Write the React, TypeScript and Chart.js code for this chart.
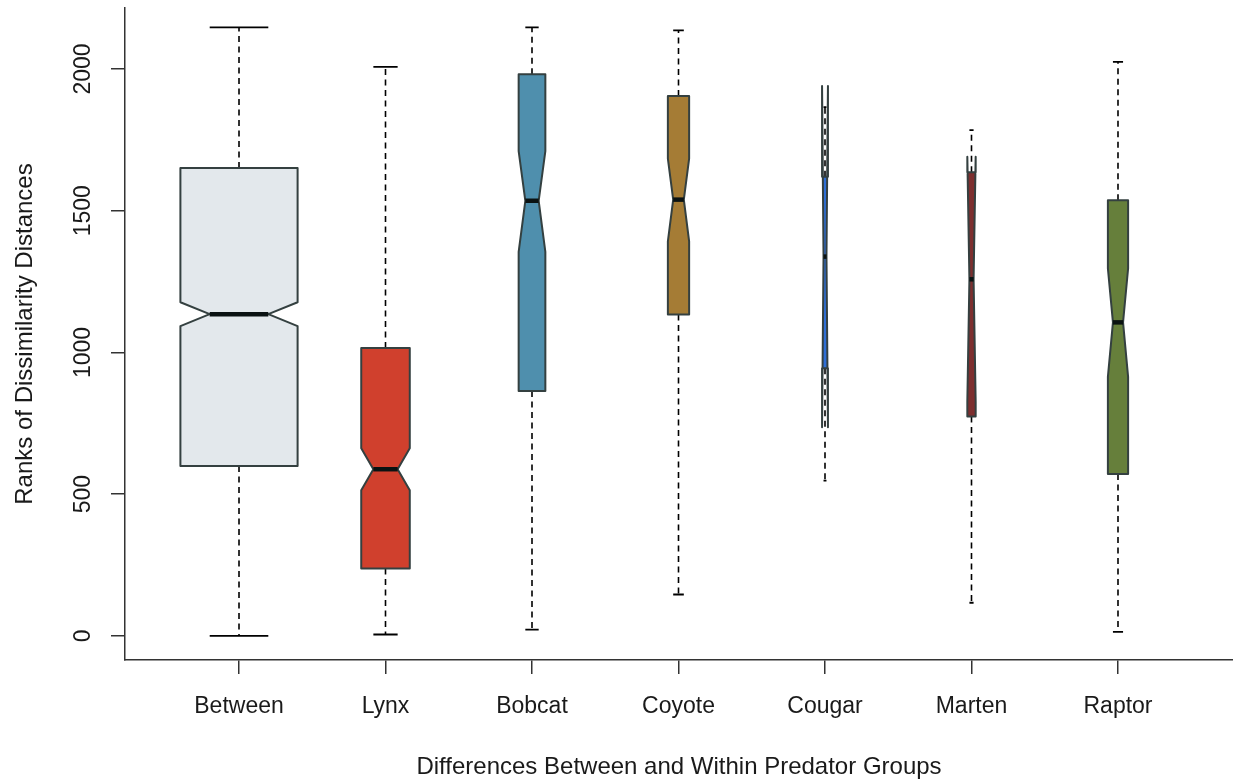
import React, { useEffect, useRef } from "react";
import { Chart, registerables } from "chart.js";

Chart.register(...registerables);

// Five-number summaries of ranked dissimilarity distances per comparison group
const groups = ["Between", "Lynx", "Bobcat", "Coyote", "Cougar", "Marten", "Raptor"];
const whiskerLow = [0, 5, 22, 146, 548, 117, 14];
const lowerHinge = [599, 238, 864, 1134, 944, 774, 571];
const medians = [1135, 588, 1535, 1539, 1338, 1258, 1106];
const upperHinge = [1651, 1016, 1981, 1905, 1620, 1636, 1537];
const whiskerHigh = [2147, 2007, 2147, 2136, 1865, 1784, 2025];
// Notch limits around each median
const notchLow = [1093, 514, 1355, 1392, 736, 826, 914];
const notchHigh = [1177, 662, 1710, 1684, 1940, 1690, 1296];
// Number of distances in each group (box widths scale with sqrt(n))
const groupSizes = [1580, 271, 82, 52, 4, 8, 47];
const yTicks = [0, 500, 1000, 1500, 2000];

const fillColors = ["#E3E8EC", "#D0402D", "#4F8FAD", "#A57C35", "#2F6FD6", "#7D2F2F", "#667F3B"];
const borderColor = "#344040";
const inkColor = "#1a1a1a";
const fontFamily = "'Liberation Sans', Arial, sans-serif";
const BOX_WEX = 0.8;

const notchedBoxPlugin = {
  id: "notchedBoxes",
  beforeDatasetsDraw(chart: any) {
    const { ctx, scales } = chart;
    const xs = scales.x;
    const ys = scales.y;
    const unit = xs.getPixelForValue(1) - xs.getPixelForValue(0);
    const maxRoot = Math.max(...groupSizes.map((n) => Math.sqrt(n)));
    const py = (v: number) => ys.getPixelForValue(v);

    ctx.save();
    groups.forEach((_, i) => {
      const cx = xs.getPixelForValue(i + 1);
      const hw = ((BOX_WEX * Math.sqrt(groupSizes[i])) / maxRoot) * unit / 2;

      // dashed whiskers
      ctx.strokeStyle = "#000";
      ctx.lineWidth = 1.6;
      ctx.lineCap = "butt";
      ctx.setLineDash([6, 4.5]);
      ctx.beginPath();
      ctx.moveTo(cx, py(lowerHinge[i]));
      ctx.lineTo(cx, py(whiskerLow[i]));
      ctx.moveTo(cx, py(upperHinge[i]));
      ctx.lineTo(cx, py(whiskerHigh[i]));
      ctx.stroke();
      ctx.setLineDash([]);

      // staples
      ctx.lineWidth = 1.8;
      ctx.beginPath();
      ctx.moveTo(cx - hw / 2, py(whiskerLow[i]));
      ctx.lineTo(cx + hw / 2, py(whiskerLow[i]));
      ctx.moveTo(cx - hw / 2, py(whiskerHigh[i]));
      ctx.lineTo(cx + hw / 2, py(whiskerHigh[i]));
      ctx.stroke();

      // notched box outline
      const pts: [number, number][] = [
        [-1, lowerHinge[i]],
        [-1, notchLow[i]],
        [-0.5, medians[i]],
        [-1, notchHigh[i]],
        [-1, upperHinge[i]],
        [1, upperHinge[i]],
        [1, notchHigh[i]],
        [0.5, medians[i]],
        [1, notchLow[i]],
        [1, lowerHinge[i]],
      ];
      ctx.beginPath();
      pts.forEach(([dx, v], k) => {
        const px = cx + dx * hw;
        if (k === 0) ctx.moveTo(px, py(v));
        else ctx.lineTo(px, py(v));
      });
      ctx.closePath();
      ctx.fillStyle = fillColors[i];
      ctx.fill();
      ctx.lineJoin = "round";
      ctx.lineWidth = 2;
      ctx.strokeStyle = borderColor;
      ctx.stroke();

      // median bar
      ctx.strokeStyle = "#0a1212";
      ctx.lineWidth = 4.5;
      ctx.beginPath();
      ctx.moveTo(cx - hw / 2, py(medians[i]));
      ctx.lineTo(cx + hw / 2, py(medians[i]));
      ctx.stroke();
    });
    ctx.restore();
  },
};

export default function App() {
  const canvasRef = useRef<HTMLCanvasElement | null>(null);

  useEffect(() => {
    if (!canvasRef.current) return;
    const chart = new Chart(canvasRef.current, {
      type: "scatter",
      data: {
        datasets: [
          {
            label: "Median",
            data: medians.map((m, i) => ({ x: i + 1, y: m })),
            pointRadius: 0,
            pointHoverRadius: 0,
          },
        ],
      },
      options: {
        animation: false,
        responsive: true,
        maintainAspectRatio: false,
        devicePixelRatio: 1,
        layout: { padding: { top: 8, left: 0, right: 0, bottom: 0 } },
        plugins: {
          legend: { display: false },
          tooltip: { enabled: false },
        },
        scales: {
          x: {
            type: "linear",
            min: 0.2218,
            max: 7.785,
            afterBuildTicks: (scale: any) => {
              scale.ticks = groups.map((_, i) => ({ value: i + 1 }));
            },
            afterFit: (scale: any) => {
              scale.height = 120;
              scale.paddingLeft = 0;
              scale.paddingRight = 0;
            },
            grid: {
              display: true,
              drawOnChartArea: false,
              drawTicks: true,
              tickLength: 14,
              color: "#333",
              lineWidth: 1.5,
            },
            border: { display: true, color: "#333", width: 1.5 },
            ticks: {
              autoSkip: false,
              maxRotation: 0,
              minRotation: 0,
              padding: 19,
              color: inkColor,
              font: { family: fontFamily, size: 23 },
              callback: (v: any) => groups[Number(v) - 1] ?? "",
            },
            title: {
              display: true,
              text: "Differences Between and Within Predator Groups",
              color: inkColor,
              font: { family: fontFamily, size: 24 },
              padding: { top: 0, bottom: -2 },
            },
          },
          y: {
            type: "linear",
            min: -85,
            max: 2215,
            afterBuildTicks: (scale: any) => {
              scale.ticks = yTicks.map((v) => ({ value: v }));
            },
            afterFit: (scale: any) => {
              scale.width = 125;
              scale.paddingTop = 0;
              scale.paddingBottom = 0;
            },
            grid: {
              display: true,
              drawOnChartArea: false,
              drawTicks: true,
              tickLength: 14,
              color: "#333",
              lineWidth: 1.5,
            },
            border: { display: true, color: "#333", width: 1.5 },
            ticks: {
              minRotation: 90,
              maxRotation: 90,
              crossAlign: "center",
              padding: 2,
              color: inkColor,
              font: { family: fontFamily, size: 23 },
              callback: (v: any) => String(v),
            },
            title: {
              display: true,
              text: "Ranks of Dissimilarity Distances",
              color: inkColor,
              font: { family: fontFamily, size: 24 },
              padding: { top: 11, bottom: 0 },
            },
          },
        },
      },
      plugins: [notchedBoxPlugin],
    });
    return () => chart.destroy();
  }, []);

  return (
    <div style={{ position: "absolute", left: 0, top: 0, width: 1233, height: 780, background: "#fff" }}>
      <canvas ref={canvasRef} />
    </div>
  );
}
